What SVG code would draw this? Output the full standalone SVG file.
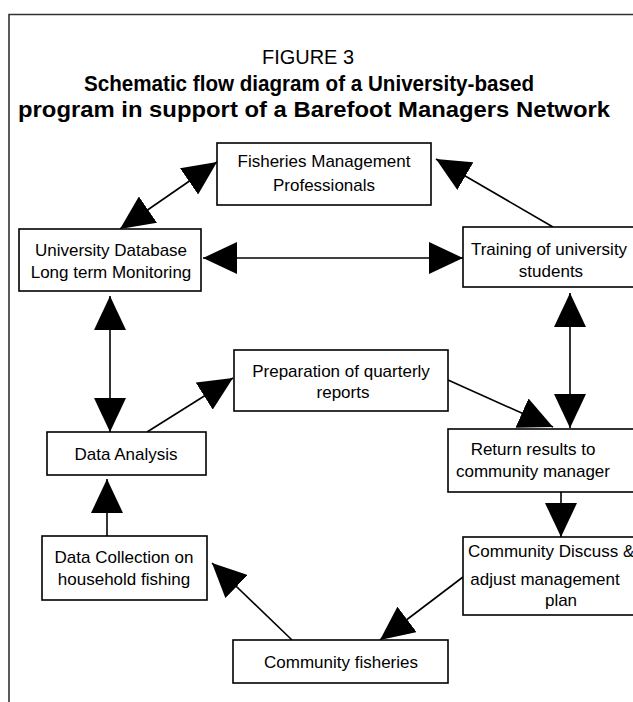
<svg xmlns="http://www.w3.org/2000/svg" width="633" height="702" viewBox="0 0 633 702">
<style>
.frame{fill:none;stroke:#333;stroke-width:1.6}
.box{fill:#fff;stroke:#000;stroke-width:1.6}
.lbl{font-family:"Liberation Sans",Arial,sans-serif;font-size:17px;fill:#000;text-anchor:middle}
.ttl{font-family:"Liberation Sans",Arial,sans-serif;fill:#000;text-anchor:middle}
.edge{fill:none;stroke:#000;stroke-width:1.6}
</style>
<defs>
<marker id="ah" markerUnits="userSpaceOnUse" markerWidth="34" markerHeight="32" refX="34" refY="16" orient="auto-start-reverse" viewBox="0 0 34 32">
<path d="M0,0 L34,16 L0,32 z" fill="#000"/>
</marker>
</defs>
<rect width="633" height="702" fill="#fff"/>
<path class="frame" d="M9,702 V14.5 H633"/>
<g id="title">
<text class="ttl" x="308" y="64" font-size="20" textLength="92" lengthAdjust="spacingAndGlyphs">FIGURE 3</text>
<text class="ttl" x="309" y="91" font-size="22" font-weight="bold" textLength="450" lengthAdjust="spacingAndGlyphs">Schematic flow diagram of a University-based</text>
<text class="ttl" x="314" y="117" font-size="22" font-weight="bold" textLength="592" lengthAdjust="spacingAndGlyphs">program in support of a Barefoot Managers Network</text>
</g>
<g id="connectors">
<line class="edge" x1="120" y1="229" x2="217" y2="162" marker-start="url(#ah)" marker-end="url(#ah)"/>
<line class="edge" x1="553" y1="227" x2="436" y2="159" marker-end="url(#ah)"/>
<line class="edge" x1="203" y1="258" x2="463" y2="258" marker-start="url(#ah)" marker-end="url(#ah)"/>
<line class="edge" x1="110" y1="296" x2="110" y2="432" marker-start="url(#ah)" marker-end="url(#ah)"/>
<line class="edge" x1="147" y1="432" x2="233" y2="378" marker-end="url(#ah)"/>
<line class="edge" x1="448" y1="380" x2="553" y2="427" marker-end="url(#ah)"/>
<line class="edge" x1="570" y1="293" x2="570" y2="428" marker-start="url(#ah)" marker-end="url(#ah)"/>
<line class="edge" x1="561" y1="492" x2="561" y2="537" marker-end="url(#ah)"/>
<line class="edge" x1="463" y1="577" x2="380" y2="640" marker-end="url(#ah)"/>
<line class="edge" x1="292" y1="640" x2="212" y2="563" marker-end="url(#ah)"/>
<line class="edge" x1="107" y1="536" x2="107" y2="479" marker-end="url(#ah)"/>
</g>
<g id="fisheries-professionals">
<rect class="box" x="217" y="143" width="214" height="62"/>
<text class="lbl" x="324" y="167">Fisheries Management</text>
<text class="lbl" x="324" y="191">Professionals</text>
</g>
<g id="university-database">
<rect class="box" x="19" y="229" width="182" height="62"/>
<text class="lbl" x="111" y="256">University Database</text>
<text class="lbl" x="111" y="278">Long term Monitoring</text>
</g>
<g id="training">
<rect class="box" x="463" y="227" width="180" height="60"/>
<text class="lbl" x="549" y="255">Training of university</text>
<text class="lbl" x="551" y="277">students</text>
</g>
<g id="preparation">
<rect class="box" x="234" y="350" width="214" height="61"/>
<text class="lbl" x="341" y="377">Preparation of quarterly</text>
<text class="lbl" x="343" y="398">reports</text>
</g>
<g id="data-analysis">
<rect class="box" x="47" y="432" width="159" height="43"/>
<text class="lbl" x="126" y="460">Data Analysis</text>
</g>
<g id="return-results">
<rect class="box" x="448" y="429" width="195" height="63"/>
<text class="lbl" x="533" y="455">Return results to</text>
<text class="lbl" x="533" y="477">community manager</text>
</g>
<g id="data-collection">
<rect class="box" x="42" y="536" width="165" height="64"/>
<text class="lbl" x="124" y="563">Data Collection on</text>
<text class="lbl" x="124" y="585">household fishing</text>
</g>
<g id="community-discuss">
<rect class="box" x="463" y="537" width="180" height="78"/>
<text class="lbl" x="468" y="557" style="text-anchor:start">Community Discuss &amp;</text>
<text class="lbl" x="545" y="585">adjust management</text>
<text class="lbl" x="561" y="606">plan</text>
</g>
<g id="community-fisheries">
<rect class="box" x="233" y="640" width="215" height="43"/>
<text class="lbl" x="341" y="668">Community fisheries</text>
</g>
</svg>
